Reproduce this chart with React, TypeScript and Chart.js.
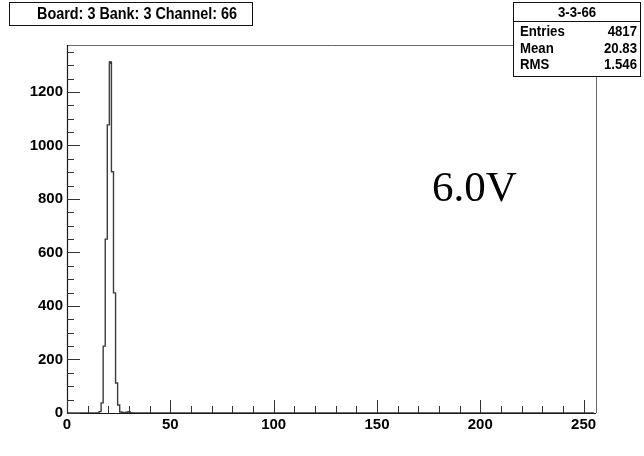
import React, { useEffect, useRef } from "react";
import { Chart, registerables } from "chart.js";

Chart.register(...registerables);

// ---- text ----
const TITLE = "Board: 3 Bank: 3 Channel: 66";
const STATS_NAME = "3-3-66";
const STATS_LABELS = ["Entries", "Mean", "RMS"];
const STATS_VALUES = ["4817", "20.83", "1.546"];
const ANNOTATION = "6.0V";

// ---- axes ----
const X_MIN = 0;
const X_MAX = 256;
const X_LABEL_TICKS = [0, 50, 100, 150, 200, 250];
const X_MAJOR = 50;
const X_MINOR = 10;
const Y_MIN = 0;
const Y_MAX = 1375.5;
const Y_LABEL_TICKS = [0, 200, 400, 600, 800, 1000, 1200];
const Y_MAJOR = 200;
const Y_MINOR = 50;
const N_BINS = 256;

// ---- histogram data (bin index -> counts), bins outside this run are 0 ----
const FIRST_BIN = 15;
const BIN_COUNTS = [0, 5, 38, 250, 650, 1077, 1310, 902, 449, 112, 30, 4, 2, 1, 3, 5, 1];

function buildHistogram() {
  const pts: { x: number; y: number }[] = [];
  for (let i = 0; i < N_BINS; i++) {
    const k = i - FIRST_BIN;
    const v = k >= 0 && k < BIN_COUNTS.length ? BIN_COUNTS[k] : 0;
    pts.push({ x: i, y: v });
  }
  return pts;
}

function peakPoint() {
  let bi = 0;
  for (let k = 1; k < BIN_COUNTS.length; k++) if (BIN_COUNTS[k] > BIN_COUNTS[bi]) bi = k;
  return { x: FIRST_BIN + bi, y: BIN_COUNTS[bi] };
}

const SANS = '"Liberation Sans", Arial, sans-serif';
const SERIF = '"Liberation Serif", "Times New Roman", serif';

function condensedText(ctx: any, text: string, x: number, y: number, align: string, sx: number) {
  ctx.save();
  ctx.translate(x, y);
  ctx.scale(sx, 1);
  ctx.textAlign = align;
  ctx.fillText(text, 0, 0);
  ctx.restore();
}

const rootPlugin = {
  id: "rootFrame",
  afterDatasetsDraw(chart: any) {
    const { ctx, chartArea: a, scales } = chart;
    const x = scales.x;
    const y = scales.y;
    ctx.save();
    // frame top/right
    ctx.strokeStyle = "#6a6a6a";
    ctx.lineWidth = 1;
    ctx.beginPath();
    ctx.moveTo(a.left, a.top + 0.5);
    ctx.lineTo(a.right + 0.5, a.top + 0.5);
    ctx.lineTo(a.right + 0.5, a.bottom);
    ctx.stroke();
    // axes
    ctx.strokeStyle = "#1a1a1a";
    ctx.lineWidth = 1.2;
    ctx.beginPath();
    ctx.moveTo(a.left + 0.5, a.top);
    ctx.lineTo(a.left + 0.5, a.bottom + 0.5);
    ctx.lineTo(a.right, a.bottom + 0.5);
    ctx.stroke();
    // ticks (inside the frame, ROOT style)
    ctx.strokeStyle = "#333";
    ctx.lineWidth = 1;
    ctx.beginPath();
    for (let v = X_MIN; v <= X_MAX; v += X_MINOR) {
      const px = Math.round(x.getPixelForValue(v)) + 0.5;
      const len = v % X_MAJOR === 0 ? 13 : 7;
      ctx.moveTo(px, a.bottom);
      ctx.lineTo(px, a.bottom - len);
    }
    for (let v = Y_MIN; v <= Y_MAX; v += Y_MINOR) {
      const py = Math.round(y.getPixelForValue(v)) + 0.5;
      const len = v % Y_MAJOR === 0 ? 13 : 7;
      ctx.moveTo(a.left, py);
      ctx.lineTo(a.left + len, py);
    }
    ctx.stroke();
    ctx.restore();
  },
  afterDraw(chart: any) {
    const { ctx } = chart;
    ctx.save();
    // title box
    ctx.fillStyle = "#fff";
    ctx.fillRect(9.5, 2.5, 243, 23);
    ctx.strokeStyle = "#111";
    ctx.lineWidth = 1;
    ctx.strokeRect(9.5, 2.5, 243, 23);
    ctx.fillStyle = "#000";
    ctx.font = `bold 16px ${SANS}`;
    ctx.textBaseline = "middle";
    condensedText(ctx, TITLE, 137, 14.5, "center", 0.9);

    // stats box
    const bx = 513.5, by = 2.5, bw = 127, bh = 74;
    ctx.fillStyle = "#fff";
    ctx.fillRect(bx, by, bw, bh);
    ctx.strokeStyle = "#111";
    ctx.strokeRect(bx, by, bw, bh);
    ctx.beginPath();
    ctx.moveTo(bx, 21.5);
    ctx.lineTo(bx + bw, 21.5);
    ctx.stroke();
    ctx.fillStyle = "#000";
    ctx.font = `bold 15px ${SANS}`;
    condensedText(ctx, STATS_NAME, bx + bw / 2, 12.5, "center", 0.88);
    const rowsY = [32, 48.5, 65];
    for (let i = 0; i < STATS_LABELS.length; i++) {
      condensedText(ctx, STATS_LABELS[i], 520, rowsY[i], "left", 0.88);
      condensedText(ctx, STATS_VALUES[i], 637, rowsY[i], "right", 0.88);
    }

    // annotation
    ctx.font = `43px ${SERIF}`;
    ctx.textAlign = "left";
    ctx.textBaseline = "alphabetic";
    ctx.fillText(ANNOTATION, 432, 201);
    ctx.restore();
  },
};

export default function App() {
  const ref = useRef<HTMLCanvasElement | null>(null);
  useEffect(() => {
    if (!ref.current) return;
    const chart = new Chart(ref.current, {
      type: "line",
      data: {
        datasets: [
          {
            data: buildHistogram(),
            stepped: "middle",
            borderColor: "#3c3c3c",
            borderWidth: 1.4,
            pointRadius: 0,
            fill: false,
          },
          {
            data: [peakPoint()],
            showLine: false,
            pointStyle: "rect",
            pointRadius: 2,
            backgroundColor: "#a01818",
            borderColor: "#a01818",
            borderWidth: 0,
          },
        ],
      } as any,
      options: {
        responsive: false,
        animation: false,
        events: [],
        layout: { padding: { top: 45, right: 48, left: 0, bottom: 0 } },
        plugins: { legend: { display: false }, tooltip: { enabled: false } },
        scales: {
          x: {
            type: "linear",
            min: X_MIN,
            max: X_MAX,
            afterBuildTicks: (s: any) => {
              s.ticks = X_LABEL_TICKS.map((v) => ({ value: v }));
            },
            afterFit: (s: any) => {
              s.height = 43;
            },
            grid: { display: false, drawTicks: false },
            border: { display: false },
            ticks: {
              autoSkip: false,
              maxRotation: 0,
              padding: 3,
              color: "#000",
              callback: (v: any) => String(v),
              font: { family: SANS, size: 15, weight: "bold" },
            },
          },
          y: {
            type: "linear",
            min: Y_MIN,
            max: Y_MAX,
            afterBuildTicks: (s: any) => {
              s.ticks = Y_LABEL_TICKS.map((v) => ({ value: v }));
            },
            afterFit: (s: any) => {
              s.width = 67;
            },
            grid: { display: false, drawTicks: false },
            border: { display: false },
            ticks: {
              autoSkip: false,
              padding: 4,
              color: "#000",
              callback: (v: any) => String(v),
              font: { family: SANS, size: 15, weight: "bold" },
            },
          },
        },
      } as any,
      plugins: [rootPlugin],
    });
    return () => chart.destroy();
  }, []);
  return (
    <div style={{ position: "fixed", left: 0, top: 0, width: 644, height: 456, background: "#fff" }}>
      <canvas ref={ref} width={644} height={456} style={{ display: "block", width: 644, height: 456 }} />
    </div>
  );
}
